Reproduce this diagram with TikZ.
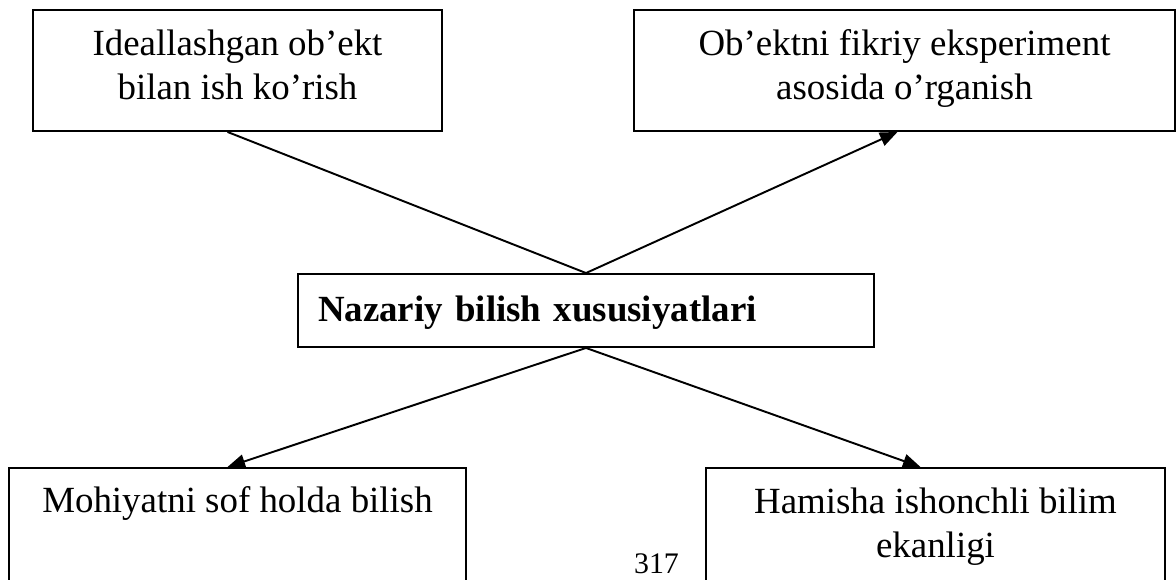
\documentclass[tikz,border=0pt]{standalone}
\usepackage{fontspec}
\setmainfont{Liberation Serif}
\usetikzlibrary{arrows.meta}

\begin{document}
\begin{tikzpicture}[x=0.02cm, y=-0.02cm, line width=1.1pt,
        box/.style={draw, inner sep=0pt, align=center, font=\fontsize{21}{25.5}\selectfont},
        arr/.style={-{Triangle[length=10pt, width=8pt]}}]
    \useasboundingbox (0,0) rectangle (1176,580);
    \clip (0,0) rectangle (1176,580);
    \node[box, minimum width=8.18cm, text height=1.8cm, text depth=0.62cm] (ideal) at (237.5,70.5) {Ideallashgan ob’ekt\\bilan ish ko’rish};
    \node[box, minimum width=10.82cm, text height=1.8cm, text depth=0.62cm] (tajriba) at (904.5,70.5) {Ob’ektni fikriy eksperiment\\asosida o’rganish};
    \node[box, text width=10.72cm, inner xsep=0.4cm, align=left, text height=0.96cm, text depth=0.5cm, font=\fontsize{21}{25.5}\selectfont\bfseries] (nazariy) at (586,310.5) {Nazariy bilish xususiyatlari};
    \node[box, anchor=north, minimum width=9.14cm, text height=0.9cm, text depth=2.2cm] (mohiyat) at (237.5,467) {Mohiyatni sof holda bilish};
    \node[box, anchor=north, minimum width=9.18cm, text height=1.8cm, text depth=1.3cm] (ishonch) at (935.5,467) {Hamisha ishonchli bilim\\ekanligi};
    \node[font=\fontsize{17}{20}\selectfont, anchor=base] (sahifa) at (656.5,573) {317};
    \draw ([xshift=-2mm]ideal.south) -- (nazariy.north);
    \draw[arr] (nazariy.north) -- ([xshift=-1.4mm]tajriba.south);
    \draw[arr] (nazariy.south) -- ([xshift=-2mm]mohiyat.north);
    \draw[arr] (nazariy.south) -- ([xshift=-3mm]ishonch.north);
\end{tikzpicture}
\end{document}
